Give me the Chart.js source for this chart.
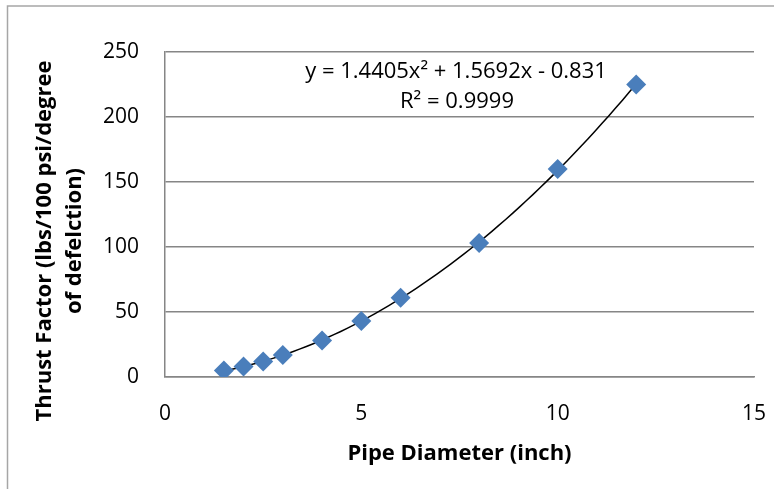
<!DOCTYPE html>
<html>
<head>
<meta charset="utf-8">
<script src="https://cdn.jsdelivr.net/npm/chart.js@4.4.1/dist/chart.umd.min.js"></script>
<style>
    html, body { margin: 0; padding: 0; background: #fff; }
    #wrap { width: 774px; height: 489px; position: relative; }
</style>
</head>
<body>
<div id="wrap"><canvas id="thrustChart" width="774" height="489"></canvas></div>
<script>
// pipe diameter (inch) and thrust factor
const diameters = [1.5, 2, 2.5, 3, 4, 5, 6, 8, 10, 12];
const thrustFactors = [5, 8, 12, 17, 28, 43, 61, 103, 160, 225];

// polynomial trendline as printed on the chart: a*x^2 + b*x + c
const trendCoeffs = [1.4405, 1.5692, -0.831];
const trendLabel = ['y = 1.4405x\u00B2 + 1.5692x - 0.831', 'R\u00B2 = 0.9999'];
const yTitle = ['Thrust Factor (lbs/100 psi/degree', 'of defelction)'];

const xTicks = [0, 5, 10, 15];
const yTicks = [0, 50, 100, 150, 200, 250];

const FONT = "'Open Sans', 'Liberation Sans', sans-serif";

// sample the trendline between the first and last diameter
const trendPoints = [];
const xFirst = diameters[0], xLast = diameters[diameters.length - 1];
for (let i = 0; i <= 60; i++) {
    const x = xFirst + (xLast - xFirst) * i / 60;
    trendPoints.push({ x: x, y: trendCoeffs[0] * x * x + trendCoeffs[1] * x + trendCoeffs[2] });
}

const extras = {
    id: 'extras',
    beforeDraw(chart) {
        const ctx = chart.ctx;
        ctx.save();
        ctx.strokeStyle = '#a6a6a6';
        ctx.lineWidth = 1.5;
        ctx.beginPath();
        ctx.moveTo(7.5, 489);
        ctx.lineTo(7.5, 6);
        ctx.lineTo(774, 6);
        ctx.stroke();
        ctx.restore();
    },
    afterDatasetsDraw(chart) {
        const ctx = chart.ctx;
        ctx.save();
        ctx.fillStyle = '#000';
        ctx.font = '22px ' + FONT;
        ctx.textAlign = 'center';
        ctx.textBaseline = 'middle';
        ctx.fillText(trendLabel[0], 456, 72);
        ctx.fillText(trendLabel[1], 457, 102);

        // y axis title, sits a bit below the plot centre like the original
        ctx.font = 'bold 22px ' + FONT;
        ctx.translate(0, 241);
        ctx.rotate(-Math.PI / 2);
        ctx.fillText(yTitle[0], 0, 45);
        ctx.fillText(yTitle[1], 0, 75);
        ctx.restore();
    }
};

new Chart(document.getElementById('thrustChart'), {
    type: 'scatter',
    data: {
        datasets: [{
            label: 'Trendline',
            data: trendPoints,
            showLine: true,
            borderColor: '#000',
            borderWidth: 1.5,
            pointRadius: 0,
            order: 2
        }, {
            label: 'Thrust Factor',
            data: diameters.map((d, i) => ({ x: d, y: thrustFactors[i] })),
            pointStyle: 'rectRot',
            pointRadius: 10,
            backgroundColor: '#4A7EBB',
            borderColor: '#4A7EBB',
            borderWidth: 0,
            order: 1
        }]
    },
    options: {
        responsive: false,
        animation: false,
        layout: { padding: { top: 52, right: 20, left: 0, bottom: 18 } },
        plugins: { legend: { display: false }, tooltip: { enabled: false } },
        scales: {
            x: {
                type: 'linear',
                min: 0,
                max: 15,
                afterBuildTicks: s => { s.ticks = xTicks.map(v => ({ value: v })); },
                afterFit: s => { s.height = 94; s.paddingLeft = 0; s.paddingRight = 0; },
                grid: { display: false, drawTicks: false },
                border: { display: true, color: '#868686', width: 1.5 },
                ticks: { color: '#000', font: { family: FONT, size: 21 }, padding: 24 },
                title: {
                    display: true,
                    text: 'Pipe Diameter (inch)',
                    color: '#000',
                    font: { family: FONT, size: 22, weight: 'bold' },
                    padding: { top: 4 }
                }
            },
            y: {
                min: 0,
                max: 250,
                afterBuildTicks: s => { s.ticks = yTicks.map(v => ({ value: v })); },
                afterFit: s => { s.width = 165; s.paddingTop = 0; s.paddingBottom = 0; },
                grid: { color: '#868686', lineWidth: 1.5, drawTicks: false },
                border: { display: true, color: '#868686', width: 1.5 },
                ticks: { color: '#000', font: { family: FONT, size: 21 }, padding: 26 },
                title: { display: false }
            }
        }
    },
    plugins: [extras]
});
</script>
</body>
</html>
